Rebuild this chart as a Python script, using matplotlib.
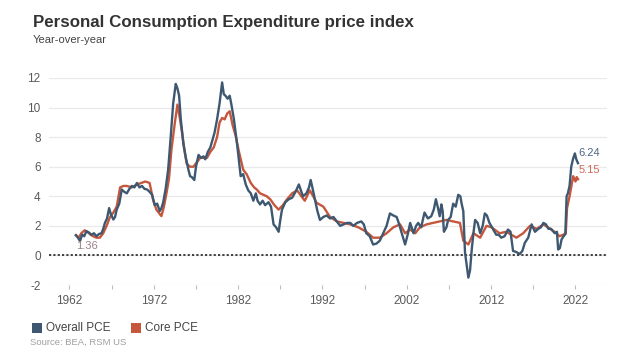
import matplotlib
matplotlib.use("Agg")
import matplotlib.pyplot as plt
from matplotlib.patches import Rectangle

plt.rcParams['font.family'] = ['Liberation Sans', 'DejaVu Sans']

# ---------------- data ----------------
overall_t = [1962.75, 1963.0, 1963.25, 1963.5, 1963.75, 1964.0, 1964.3, 1964.6, 1964.9, 1965.2,
             1965.5, 1965.8, 1966.0, 1966.2, 1966.45, 1966.7, 1966.9, 1967.2, 1967.4, 1967.6,
             1967.9, 1968.2, 1968.5, 1968.8, 1969.1, 1969.4, 1969.7, 1970.0, 1970.3, 1970.6,
             1970.9, 1971.2, 1971.5, 1971.8, 1972.1, 1972.4, 1972.7, 1972.9, 1973.1, 1973.4,
             1973.7, 1974.0, 1974.3, 1974.5, 1974.6, 1974.8, 1975.0, 1975.2, 1975.5, 1975.8,
             1976.1, 1976.3, 1976.5, 1976.8, 1977.0, 1977.3, 1977.6, 1977.9, 1978.1, 1978.4,
             1978.7, 1978.9, 1979.2, 1979.5, 1979.8, 1980.1, 1980.3, 1980.5, 1980.75, 1981.0,
             1981.2, 1981.5, 1981.7, 1981.9, 1982.1, 1982.3, 1982.6, 1982.9, 1983.2, 1983.5,
             1983.8, 1984.1, 1984.3, 1984.6, 1984.9, 1985.2, 1985.6, 1985.9, 1986.2, 1986.5,
             1986.8, 1987.0, 1987.2, 1987.6, 1988.0, 1988.4, 1988.8, 1989.2, 1989.5, 1989.7,
             1990.1, 1990.4, 1990.6, 1990.8, 1991.1, 1991.4, 1991.7, 1992.1, 1992.5, 1992.9,
             1993.3, 1993.7, 1994.1, 1994.5, 1994.9, 1995.3, 1995.65, 1996.1, 1996.6, 1996.9,
             1997.2, 1997.6, 1998.0, 1998.4, 1998.8, 1999.2, 1999.6, 2000.0, 2000.4, 2000.8,
             2001.1, 2001.4, 2001.8, 2002.1, 2002.4, 2002.8, 2003.1, 2003.35, 2003.7, 2004.1,
             2004.5, 2004.9, 2005.2, 2005.45, 2005.7, 2005.9, 2006.1, 2006.25, 2006.4, 2006.7,
             2006.9, 2007.2, 2007.5, 2007.8, 2008.1, 2008.35, 2008.5, 2008.7, 2008.9, 2009.3,
             2009.5, 2009.7, 2009.9, 2010.1, 2010.4, 2010.7, 2011.0, 2011.25, 2011.5, 2011.8,
             2012.2, 2012.6, 2012.9, 2013.2, 2013.6, 2014.0, 2014.3, 2014.6, 2014.9, 2015.4,
             2015.7, 2016.0, 2016.4, 2016.8, 2017.2, 2017.6, 2017.9, 2018.2, 2018.5, 2018.8,
             2019.1, 2019.55, 2019.8, 2019.95, 2020.15, 2020.35, 2020.6, 2020.8, 2020.95, 2021.1,
             2021.3, 2021.5, 2021.7, 2021.93, 2022.1, 2022.3]
overall_v = [1.37, 1.2, 0.97, 1.4, 1.3, 1.64, 1.55, 1.4, 1.5, 1.3,
             1.45, 1.5, 1.8, 2.2, 2.5, 3.2, 2.8, 2.43, 2.6, 3.1,
             3.5, 4.46, 4.3, 4.2, 4.5, 4.7, 4.6, 4.9, 4.6, 4.7,
             4.5, 4.46, 4.3, 4.1, 3.4, 3.5, 3.0, 3.2, 3.56, 4.5,
             5.8, 8.0, 10.3, 11.2, 11.6, 11.3, 10.8, 9.2, 7.6, 6.6,
             5.8, 5.36, 5.3, 5.1, 6.0, 6.8, 6.6, 6.7, 6.5, 7.0,
             7.3, 7.7, 8.3, 9.2, 10.3, 11.7, 10.9, 10.8, 10.6, 10.8,
             10.2, 9.2, 8.3, 7.4, 6.4, 5.36, 5.5, 4.8, 4.4, 4.2,
             3.7, 4.2, 3.7, 3.45, 3.7, 3.4, 3.6, 3.3, 2.1, 1.9,
             1.6, 2.4, 3.1, 3.6, 3.8, 3.9, 4.3, 4.8, 4.3, 4.0,
             4.2, 4.6, 5.1, 4.6, 3.8, 3.0, 2.4, 2.6, 2.7, 2.5,
             2.6, 2.3, 2.0, 2.1, 2.2, 2.2, 2.0, 2.2, 2.3, 2.1,
             1.5, 1.3, 0.74, 0.8, 1.0, 1.5, 2.0, 2.84, 2.7, 2.6,
             2.1, 1.5, 0.74, 1.4, 2.2, 1.5, 2.0, 2.2, 1.9, 2.9,
             2.5, 2.65, 3.1, 3.8, 3.2, 2.65, 3.45, 3.0, 1.6, 1.9,
             2.4, 2.6, 3.5, 3.3, 4.1, 4.0, 3.5, 3.0, 0.2, -1.5,
             -1.0, 0.4, 1.5, 2.4, 2.2, 1.5, 2.0, 2.84, 2.7, 2.2,
             1.8, 1.4, 1.4, 1.2, 1.3, 1.75, 1.6, 0.3, 0.25, 0.1,
             0.3, 0.86, 1.2, 2.1, 1.6, 1.8, 1.9, 2.2, 2.1, 1.8,
             1.8, 1.5, 1.6, 0.4, 0.5, 1.08, 1.3, 1.44, 4.0, 4.2,
             4.7, 6.0, 6.5, 6.9, 6.5, 6.24]

core_t = [1962.8, 1963.1, 1963.4, 1963.8, 1964.1, 1964.5, 1964.8, 1965.2, 1965.6, 1966.0,
          1966.4, 1966.8, 1967.2, 1967.6, 1968.0, 1968.4, 1968.8, 1969.4, 1970.0, 1970.5,
          1971.0, 1971.5, 1971.9, 1972.3, 1972.9, 1973.2, 1973.5, 1973.8, 1974.1, 1974.5,
          1974.8, 1975.05, 1975.3, 1975.6, 1975.9, 1976.3, 1976.7, 1977.1, 1977.5, 1977.9,
          1978.3, 1978.7, 1979.1, 1979.5, 1979.8, 1980.1, 1980.4, 1980.7, 1981.0, 1981.35,
          1981.7, 1982.1, 1982.6, 1983.0, 1983.5, 1983.9, 1984.2, 1984.6, 1985.0, 1985.4,
          1985.8, 1986.3, 1986.8, 1987.3, 1987.8, 1988.4, 1989.0, 1989.5, 1989.9, 1990.5,
          1990.9, 1991.3, 1992.1, 1992.9, 1993.7, 1994.5, 1995.3, 1996.25, 1997.2, 1998.0,
          1998.8, 1999.6, 2000.4, 2001.2, 2001.8, 2002.4, 2003.0, 2003.55, 2004.35, 2005.1,
          2005.9, 2006.7, 2007.5, 2008.3, 2008.7, 2009.3, 2009.9, 2010.7, 2011.45, 2012.05,
          2013.0, 2013.8, 2015.0, 2015.8, 2016.6, 2017.4, 2018.2, 2019.0, 2019.75, 2020.1,
          2020.55, 2020.85, 2021.0, 2021.3, 2021.73, 2022.0, 2022.15, 2022.3]
core_v = [1.36, 1.2, 1.5, 1.7, 1.6, 1.4, 1.3, 1.2, 1.2, 1.5,
          2.0, 2.6, 2.9, 3.3, 4.6, 4.7, 4.7, 4.6, 4.8, 4.9,
          5.0, 4.9, 3.8, 3.1, 2.66, 3.3, 4.2, 5.2, 7.2, 9.0,
          10.2, 9.4, 8.5, 7.2, 6.2, 6.0, 6.0, 6.3, 6.6, 6.6,
          6.6, 7.0, 7.3, 8.0, 9.0, 9.3, 9.2, 9.6, 9.75, 8.8,
          8.1, 7.0, 5.8, 5.5, 4.9, 4.6, 4.46, 4.2, 4.1, 4.0,
          3.8, 3.4, 3.1, 3.4, 3.8, 4.2, 4.4, 4.0, 3.7, 4.4,
          4.0, 3.56, 3.3, 2.6, 2.3, 2.2, 2.1, 1.9, 1.6, 1.2,
          1.2, 1.5, 1.9, 2.1, 1.5, 1.75, 1.5, 1.9, 2.1, 2.2,
          2.3, 2.4, 2.3, 2.2, 1.0, 0.74, 1.5, 1.2, 2.0, 1.9,
          1.5, 1.6, 1.2, 1.5, 2.0, 1.8, 2.1, 1.8, 1.5, 1.3,
          1.4, 1.5, 3.2, 4.0, 5.36, 5.0, 5.3, 5.15]

y_ticks = [-2, 0, 2, 4, 6, 8, 10, 12]
x_major = [1962, 1972, 1982, 1992, 2002, 2012, 2022]
x_minor = [1967, 1977, 1987, 1997, 2007, 2017]
series_names = ["Overall PCE", "Core PCE"]

# ---------------- style ----------------
c_overall = '#3d5870'
c_core = '#c6573d'
tick_color = '#5a5a5a'

W, H = 630, 352
fig = plt.figure(figsize=(W / 100, H / 100), dpi=100)
fig.patch.set_facecolor('white')

left_px, right_px = 49, 607
bottom_px, top_px = 285, 78
ax = fig.add_axes([left_px / W, 1 - bottom_px / H,
                   (right_px - left_px) / W, (bottom_px - top_px) / H])

ax.plot(core_t, core_v, color=c_core, lw=1.7, solid_joinstyle='round', zorder=3, clip_on=False)
ax.plot(overall_t, overall_v, color=c_overall, lw=1.7, solid_joinstyle='round', zorder=4, clip_on=False)

ax.axhline(0, color='#222222', lw=1.2, ls=(0, (1.3, 1.3)), zorder=2)

ax.set_xlim(1959.57, 2025.74)
ax.set_ylim(-2, 12)
ax.set_yticks(y_ticks)
ax.set_yticklabels([str(v) for v in y_ticks])
ax.set_xticks(x_major)
ax.set_xticklabels([str(v) for v in x_major])
ax.set_xticks(x_minor, minor=True)

ax.grid(axis='y', color='#e9e9e9', lw=0.9, zorder=0)
ax.set_axisbelow(True)
for s in ax.spines.values():
    s.set_visible(False)

ax.tick_params(axis='y', length=0, pad=6, labelsize=8.5, labelcolor=tick_color)
ax.tick_params(axis='x', which='both', length=3, width=0.8, color='#bdbdbd', pad=4,
               labelsize=8.5, labelcolor=tick_color)

# end / start labels
ax.annotate(f"{overall_v[-1]:.2f}", xy=(overall_t[-1], overall_v[-1]), xytext=(0.5, 7),
            textcoords='offset points', ha='left', va='center', fontsize=8,
            color='#4a6784', zorder=5)
ax.annotate(f"{core_v[-1]:.2f}", xy=(core_t[-1], core_v[-1]), xytext=(0.5, 7),
            textcoords='offset points', ha='left', va='center', fontsize=8,
            color='#cf6a55', zorder=5)
ax.annotate(f"{core_v[0]:.2f}", xy=(core_t[0], core_v[0]), xytext=(7.5, -7.5),
            textcoords='offset points', ha='center', va='center', fontsize=8,
            color='#9c8088', zorder=5)

# titles
fig.text(33 / W, 1 - 23 / H, "Personal Consumption Expenditure price index",
         fontsize=12.2, fontweight='bold', color='#333333', ha='left', va='center')
fig.text(33 / W, 1 - 40 / H, "Year-over-year", fontsize=8, color='#444444',
         ha='left', va='center')

# legend
leg_y = 328
for x0, name, col in [(32, series_names[0], c_overall), (131, series_names[1], c_core)]:
    fig.patches.append(Rectangle((x0 / W, 1 - (leg_y + 5) / H), 10 / W, 10 / H,
                                 transform=fig.transFigure, facecolor=col,
                                 edgecolor='none'))
    fig.text((x0 + 14) / W, 1 - leg_y / H, name, fontsize=8.5, color='#444444',
             ha='left', va='center')

fig.text(30 / W, 1 - 342 / H, "Source: BEA, RSM US", fontsize=6.8, color='#a0a0a0',
         ha='left', va='center')

fig.savefig('out.png', dpi=100, facecolor='white')
